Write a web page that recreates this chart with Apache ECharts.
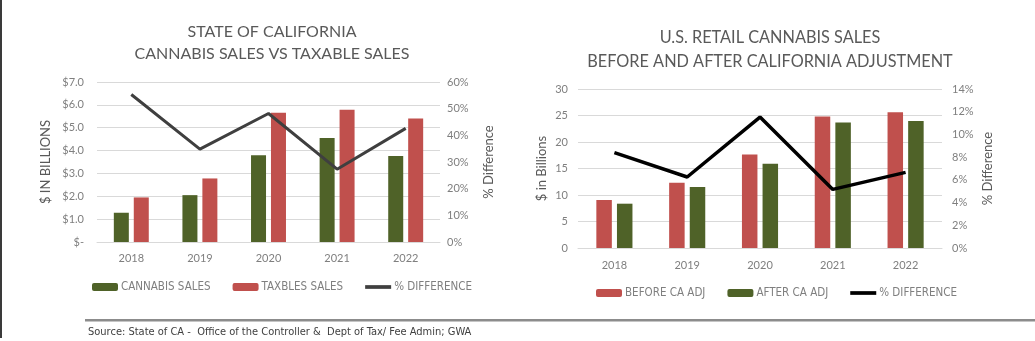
<!DOCTYPE html>
<html>
<head>
<meta charset="utf-8">
<script src="https://cdn.jsdelivr.net/npm/echarts@6/dist/echarts.min.js"></script>
<style>
  html, body { margin: 0; padding: 0; background: #fff; }
  #chart { width: 1035px; height: 341px; }
</style>
</head>
<body>
<div id="chart"></div>
<script>
// Years shared by both panels
const years = ['2018', '2019', '2020', '2021', '2022'];

// California: cannabis sales vs taxable sales ($ billions) and % difference
const caCannabisSales = [1.28, 2.05, 3.80, 4.55, 3.76];
const caTaxableSales = [1.95, 2.78, 5.66, 5.79, 5.40];
const caPctDifference = [55.3, 34.8, 48.2, 27.3, 42.6];

// U.S. retail cannabis sales ($ billions) before/after California adjustment
const usBeforeAdj = [9.06, 12.3, 17.66, 24.8, 25.6];
const usAfterAdj = [8.36, 11.5, 15.9, 23.7, 23.96];
const usPctDifference = [8.4, 6.25, 11.53, 5.16, 6.66];

const GREEN = '#4f6228';
const RED = '#c0504d';
const GRID_LINE = '#d9d9d9';
const TICK_COLOR = '#7f7f7f';
const TEXT_FONT = 'Lato, "Open Sans", sans-serif';
const NARROW_FONT = '"Liberation Sans Narrow", "DejaVu Sans Condensed", sans-serif';
// thick short bar used as the legend marker of the line series
const LINE_ICON = 'path://M0,0 L28,0 L28,4 L0,4 Z';

const chart = echarts.init(document.getElementById('chart'));

function catAxis(gridIndex, margin) {
  return {
    type: 'category', gridIndex, data: years,
    axisLine: { lineStyle: { color: GRID_LINE } },
    axisTick: { show: false },
    axisLabel: { color: TICK_COLOR, fontSize: 11, fontFamily: TEXT_FONT, margin }
  };
}

function valAxis(gridIndex, opts) {
  return Object.assign({
    type: 'value', gridIndex,
    axisLine: { show: false },
    axisTick: { show: false },
    splitLine: { lineStyle: { color: GRID_LINE, width: 1 } },
    nameLocation: 'middle',
    nameTextStyle: { color: '#595959', fontSize: 13, fontFamily: TEXT_FONT },
    axisLabel: { color: TICK_COLOR, fontSize: 11, fontFamily: TEXT_FONT }
  }, opts);
}

const legendText = { color: '#7f7f7f', fontSize: 11.5, fontFamily: NARROW_FONT, padding: [0, 0, 0, -2] };

const option = {
  animation: false,
  backgroundColor: '#fff',
  title: [
    {
      text: 'STATE OF CALIFORNIA\nCANNABIS SALES VS TAXABLE SALES',
      left: 267, top: 16, textAlign: 'center',
      textStyle: { color: '#595959', fontSize: 16, fontWeight: 'normal', fontFamily: TEXT_FONT, lineHeight: 22 }
    },
    {
      text: 'U.S. RETAIL CANNABIS SALES\nBEFORE AND AFTER CALIFORNIA ADJUSTMENT',
      left: 765, top: 21, textAlign: 'center',
      textStyle: { color: '#595959', fontSize: 16.3, fontWeight: 'normal', fontFamily: TEXT_FONT, lineHeight: 24 }
    }
  ],
  grid: [
    { left: 97, right: 595, top: 82, bottom: 99 },
    { left: 578, right: 93, top: 89, bottom: 93 }
  ],
  xAxis: [catAxis(0, 11), catAxis(1, 12)],
  yAxis: [
    valAxis(0, {
      min: 0, max: 7, interval: 1,
      name: '$ IN BILLIONS', nameGap: 45,
      axisLabel: {
        color: TICK_COLOR, fontSize: 11, fontFamily: TEXT_FONT, margin: 13,
        formatter: v => v === 0 ? '$-' : '$' + v.toFixed(1)
      }
    }),
    valAxis(0, {
      min: 0, max: 60, interval: 10, position: 'right',
      splitLine: { show: false },
      name: '% Difference', nameGap: 42,
      axisLabel: { color: TICK_COLOR, fontSize: 11, fontFamily: TEXT_FONT, margin: 7, formatter: '{value}%' }
    }),
    valAxis(1, {
      min: 0, max: 30, interval: 5,
      name: '$ in Billions', nameGap: 30,
      axisLabel: { color: TICK_COLOR, fontSize: 11, fontFamily: TEXT_FONT, margin: 10 }
    }),
    valAxis(1, {
      min: 0, max: 14, interval: 2, position: 'right',
      splitLine: { show: false },
      name: '% Difference', nameGap: 39,
      axisLabel: { color: TICK_COLOR, fontSize: 11, fontFamily: TEXT_FONT, margin: 10, formatter: '{value}%' }
    })
  ],
  legend: [
    {
      left: 87, top: 276, itemWidth: 26, itemHeight: 8, itemGap: 22,
      textStyle: legendText,
      data: ['CANNABIS SALES', 'TAXBLES SALES', { name: '% DIFFERENCE', icon: LINE_ICON }]
    },
    {
      left: 591, top: 282, itemWidth: 26, itemHeight: 8, itemGap: 22,
      textStyle: legendText,
      data: ['BEFORE CA ADJ', 'AFTER CA ADJ', { name: '% DIFFERENCE ', icon: LINE_ICON }]
    }
  ],
  series: [
    {
      name: 'CANNABIS SALES', type: 'bar', xAxisIndex: 0, yAxisIndex: 0,
      data: caCannabisSales, barWidth: 15, barGap: '33%',
      itemStyle: { color: GREEN }
    },
    {
      name: 'TAXBLES SALES', type: 'bar', xAxisIndex: 0, yAxisIndex: 0,
      data: caTaxableSales, barWidth: 15, barGap: '33%',
      itemStyle: { color: RED }
    },
    {
      name: '% DIFFERENCE', type: 'line', xAxisIndex: 0, yAxisIndex: 1,
      data: caPctDifference, showSymbol: false, symbol: 'none',
      lineStyle: { color: '#3f3f3f', width: 3 }, itemStyle: { color: '#3f3f3f' }, z: 5
    },
    {
      name: 'BEFORE CA ADJ', type: 'bar', xAxisIndex: 1, yAxisIndex: 2,
      data: usBeforeAdj, barWidth: 15.5, barGap: '33%',
      itemStyle: { color: RED }
    },
    {
      name: 'AFTER CA ADJ', type: 'bar', xAxisIndex: 1, yAxisIndex: 2,
      data: usAfterAdj, barWidth: 15.5, barGap: '33%',
      itemStyle: { color: GREEN }
    },
    {
      name: '% DIFFERENCE ', type: 'line', xAxisIndex: 1, yAxisIndex: 3,
      data: usPctDifference, showSymbol: false, symbol: 'none',
      lineStyle: { color: '#000', width: 3.5 }, itemStyle: { color: '#000' }, z: 5
    }
  ],
  graphic: [
    // left frame edge
    { type: 'rect', left: 0, top: 0, shape: { width: 2, height: 338 }, style: { fill: '#3a3a3a' } },
    // rule above the source note
    { type: 'rect', left: 85, top: 319, shape: { width: 950, height: 2.5 }, style: { fill: '#8c8c8c' } },
    {
      type: 'text', left: 88, top: 327,
      style: {
        text: 'Source: State of CA -  Office of the Controller &  Dept of Tax/ Fee Admin; GWA',
        fill: '#404040', font: '11px ' + NARROW_FONT
      }
    }
  ]
};

chart.setOption(option);
</script>
</body>
</html>
